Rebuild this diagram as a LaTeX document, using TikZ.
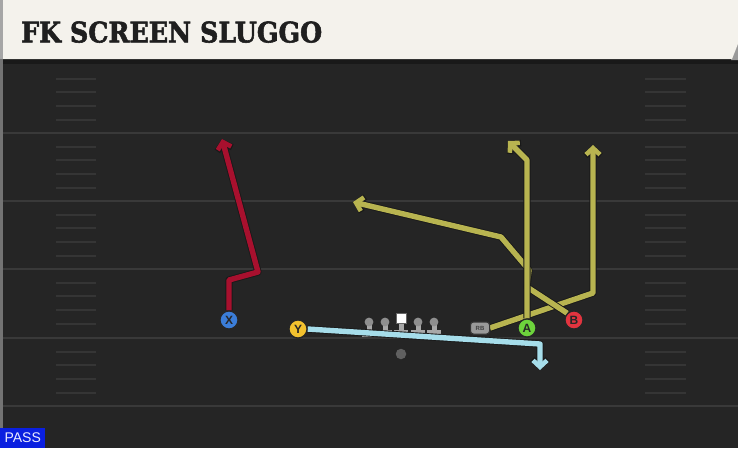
\documentclass[tikz,border=0pt]{standalone}
\usepackage{fontspec}
\setmainfont{Liberation Sans}
\newfontfamily\titlefont{DejaVu Serif}[BoldFont={DejaVu Serif Bold}, BoldFeatures={FakeBold=2}]
\usetikzlibrary{arrows.meta}
\definecolor{fieldbg}{HTML}{252525}
\definecolor{yardline}{HTML}{393939}
\definecolor{hashc}{HTML}{353535}
\definecolor{headbg}{HTML}{F4F2EC}
\definecolor{xred}{HTML}{A8102E}
\definecolor{olive}{HTML}{B8B450}
\definecolor{skyb}{HTML}{A6DDEA}
\definecolor{pblue}{HTML}{3B7DD8}
\definecolor{pyellow}{HTML}{F2C12E}
\definecolor{pgreen}{HTML}{6DD33C}
\definecolor{pred}{HTML}{E2343F}
\definecolor{linegray}{HTML}{A8A8A8}
\definecolor{passblue}{HTML}{0A1FE0}
\tikzset{
  player/.style={circle, draw=black!85, line width=1.2pt, minimum size=18pt, inner sep=0pt, font=\bfseries\fontsize{12}{12}\selectfont, text=black!85},
  rbbadge/.style={rounded corners=3pt, fill=gray!80, draw=black!80, line width=1pt, minimum width=19pt, minimum height=12pt, inner sep=0pt, font=\bfseries\fontsize{6}{6}\selectfont, text=black!75},
  route/.style={line width=5.4pt, line join=round,
    -{Straight Barb[length=6.5pt,width=14pt,line width=4.6pt]},
    preaction={draw=black!90, line width=7.2pt, line join=round, -{Straight Barb[length=6.5pt,width=15.5pt,line width=6.4pt]}}},
  hashmark/.style={draw=hashc, line width=2pt},
  yardmark/.style={draw=yardline, line width=2.8pt}
}
\begin{document}
\begin{tikzpicture}[x=1pt,y=-1pt]
\useasboundingbox (0,0) rectangle (738,448);
% field
\fill[fieldbg] (0,0) rectangle (738,448);
\fill[black!90] (0,58) rectangle (738,64);
\fill[black!55] (0,0) rectangle (3,448);
% yard lines
\foreach \yy in {133,201,269,338,406} {\draw[yardmark] (3,\yy) -- (738,\yy);}
% hash marks
\foreach \yy in {65,133,201,269,338} {
  \foreach \k in {1,2,3,4} {
    \draw[hashmark] (56,\yy+13.7*\k) -- (96,\yy+13.7*\k);
    \draw[hashmark] (645,\yy+13.7*\k) -- (686,\yy+13.7*\k);
  }
}
% header
\fill[black!40] (731,60) -- (738,44) -- (738,60) -- cycle;
\fill[headbg] (3,0) -- (738,0) -- (738,44) -- (732,59) -- (3,59) -- cycle;
\fill[black!35] (0,0) rectangle (3,59);
\node[anchor=south west, inner sep=0pt, text=black!88] (title) at (21,43) {\resizebox{301pt}{21pt}{\titlefont\bfseries FK SCREEN SLUGGO}};
% pass label
\node[fill=passblue, text=white!92!blue, anchor=south west, minimum width=45pt, minimum height=20pt, inner sep=0pt, font=\fontsize{14}{14}\selectfont] (pass) at (0,448) {PASS};
% route coordinates
\coordinate (x1) at (229,280);
\coordinate (x2) at (258,272);
\coordinate (x3) at (222,139);
\coordinate (a1) at (527,160);
\coordinate (a2) at (508,141);
\coordinate (b1) at (527,287);
\coordinate (b2) at (529,270);
\coordinate (b3) at (501,237);
\coordinate (b4) at (353,202);
\coordinate (r1) at (593,293);
\coordinate (r2) at (593,145);
\coordinate (y1) at (540,344);
\coordinate (y2) at (540,370);
% linemen
\foreach \lx in {369,385,401,418,434} {
  \fill[linegray] (\lx-2.5,322) rectangle (\lx+2.5,331);
  \fill[linegray] (\lx-7,330) rectangle (\lx+7,336.5);
}
\foreach \lx in {369,385,418,434} {\fill[linegray!85!black] (\lx,322) circle (4.4pt);}
\node[fill=white, draw=black!60, line width=0.5pt, minimum size=10pt, inner sep=0pt] (C) at (401,318.5) {};
\node[circle, fill=gray!75!black, minimum size=10.5pt, inner sep=0pt] (QB) at (401,354) {};
% players
\node[player, fill=pblue] (X) at (229,320) {X};
\node[player, fill=pyellow] (Y) at (298,329) {Y};
\node[player, fill=pgreen] (A) at (527,328) {A};
\node[player, fill=pred] (B) at (574,320) {B};
\node[rbbadge] (RB) at (480,328) {RB};
% routes
\draw[route, draw=skyb] (Y.east) -- (y1) -- (y2);
\draw[route, draw=xred] (X.north) -- (x1) -- (x2) -- (x3);
\draw[route, draw=olive] (RB.east) -- (r1) -- (r2);
\draw[route, draw=olive] (B.north west) -- (b1) -- (b2) -- (b3) -- (b4);
\draw[route, draw=olive] (A.north) -- (a1) -- (a2);
% player nodes on top of routes
\node[player, fill=pblue] at (X) {X};
\node[player, fill=pyellow] at (Y) {Y};
\node[player, fill=pgreen] at (A) {A};
\node[player, fill=pred] at (B) {B};
\node[rbbadge] at (RB) {RB};
\end{tikzpicture}
\end{document}
